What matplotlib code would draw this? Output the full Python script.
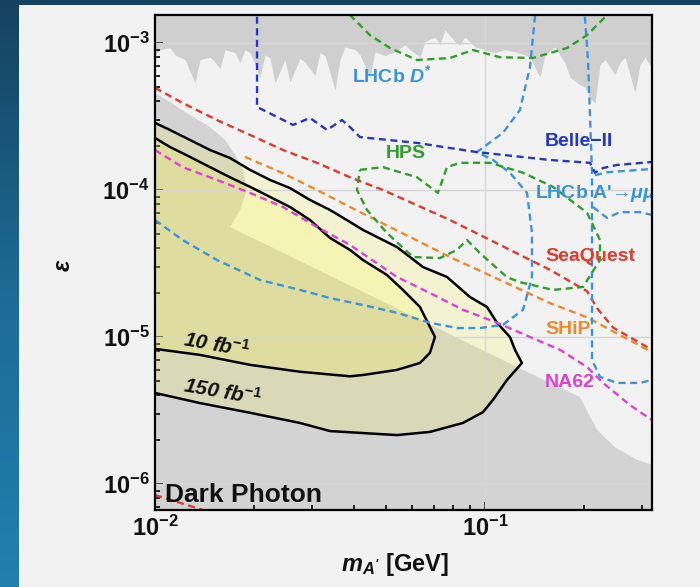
import numpy as np
import matplotlib
matplotlib.use("Agg")
import matplotlib.pyplot as plt
from matplotlib.patches import Rectangle
from matplotlib.colors import LinearSegmentedColormap
from matplotlib.ticker import LogLocator, NullFormatter

plt.rcParams['font.family'] = ['Liberation Sans', 'DejaVu Sans']
plt.rcParams['font.weight'] = 'bold'
plt.rcParams['axes.labelweight'] = 'bold'
plt.rcParams['mathtext.fontset'] = 'custom'
plt.rcParams['mathtext.rm'] = 'Liberation Sans:bold'
plt.rcParams['mathtext.it'] = 'Liberation Sans:italic:bold'
plt.rcParams['mathtext.bf'] = 'Liberation Sans:bold'

# ---------------- data (m_A' in GeV, epsilon) ----------------
# existing constraints, upper (jagged) region: lower boundary
top_m = [0.01000, 0.01035, 0.01110, 0.01150, 0.01233, 0.01322, 0.01369, 0.01468, 0.01520,
         0.01574, 0.01630, 0.01748, 0.01810, 0.01874, 0.01941, 0.02081, 0.02155, 0.02231,
         0.02311, 0.02477, 0.02565, 0.02750, 0.02848, 0.03054, 0.03162, 0.03274, 0.03511,
         0.03635, 0.03764, 0.04036, 0.04179, 0.04481, 0.04640, 0.04976, 0.05335, 0.05720,
         0.05923, 0.06351, 0.06577, 0.07052, 0.07302, 0.07561, 0.08108, 0.08396, 0.08694,
         0.09322, 0.1000, 0.1072, 0.1150, 0.1233, 0.1322, 0.1369, 0.1468, 0.1520, 0.1630,
         0.1748, 0.1810, 0.1941, 0.2010, 0.2081, 0.2155, 0.2231, 0.2311, 0.2477, 0.2565,
         0.2656, 0.2848, 0.2949, 0.3054, 0.3207]
top_eps = [8.3e-4, 9.0e-4, 9.3e-4, 8.3e-4, 7.7e-4, 5.35e-4, 7.7e-4, 8.0e-4, 7.4e-4,
           6.7e-4, 9.0e-4, 8.6e-4, 7.3e-4, 9.0e-4, 8.6e-4, 5.85e-4, 8.3e-4, 7.9e-4,
           5.35e-4, 7.7e-4, 5.4e-4, 7.9e-4, 7.4e-4, 6.0e-4, 8.6e-4, 8.2e-4, 4.8e-4,
           7.7e-4, 9.4e-4, 9.0e-4, 8.3e-4, 5.85e-4, 8.7e-4, 8.2e-4, 8.7e-4, 9.7e-4,
           9.0e-4, 8.0e-4, 1.02e-3, 1.10e-3, 9.7e-4, 1.23e-3, 1.02e-3, 9.7e-4, 1.10e-3,
           9.4e-4, 9.0e-4, 8.6e-4, 9.0e-4, 8.7e-4, 8.3e-4, 8.0e-4, 5.85e-4, 8.3e-4, 9.4e-4,
           7.3e-4, 5.85e-4, 5.2e-4, 5.0e-4, 4.2e-4, 3.9e-4, 7.1e-4, 7.7e-4, 6.1e-4, 7.4e-4,
           8.0e-4, 4.6e-4, 7.1e-4, 8.0e-4, 6.7e-4]

# existing constraints, lower (beam dump) region: upper boundary
low_m = [0.0100, 0.01110, 0.01276, 0.01468, 0.01630, 0.01748, 0.01849, 0.01900, 0.01810,
         0.01688, 0.1250, 0.1941, 0.2186, 0.2477, 0.2888, 0.3207]
low_eps = [4.57e-4, 3.97e-4, 3.24e-4, 2.68e-4, 2.19e-4, 1.73e-4, 1.37e-4, 1.00e-4, 7.31e-5,
           5.6e-5, 6.25e-6, 3.9e-6, 2.33e-6, 1.78e-6, 1.46e-6, 1.35e-6]

# projected reach, 150 fb^-1 (closed contour)
c150_m = [0.01000, 0.01110, 0.01276, 0.01468, 0.01688, 0.01941, 0.02231, 0.02565, 0.02949,
          0.03390, 0.03898, 0.04267, 0.05410, 0.06486, 0.07668, 0.09003, 0.1014, 0.1087,
          0.1190, 0.1233, 0.1294, 0.1166, 0.1057, 0.0986, 0.08573, 0.06810, 0.05410,
          0.04267, 0.03390, 0.02750, 0.01941, 0.01369, 0.01000]
c150_eps = [2.86e-4, 2.56e-4, 2.19e-4, 1.87e-4, 1.65e-4, 1.37e-4, 1.17e-4, 1.03e-4, 8.55e-5,
            7.31e-5, 6.06e-5, 5.35e-5, 4.09e-5, 2.99e-5, 2.56e-5, 1.87e-5, 1.60e-5, 1.25e-5,
            1.0e-5, 8.17e-6, 6.65e-6, 5.10e-6, 3.73e-6, 3.08e-6, 2.60e-6, 2.26e-6, 2.15e-6,
            2.22e-6, 2.29e-6, 2.60e-6, 3.05e-6, 3.55e-6, 4.16e-6]

# projected reach, 10 fb^-1 (closed contour)
c10_m = [0.01000, 0.01110, 0.01276, 0.01468, 0.01688, 0.01941, 0.02231, 0.02565, 0.02949,
         0.03390, 0.03898, 0.04267, 0.05046, 0.05640, 0.06351, 0.06810, 0.07052, 0.06810,
         0.06351, 0.05410, 0.04267, 0.03898, 0.02750, 0.01941, 0.01369, 0.01000]
c10_eps = [2.26e-4, 1.96e-4, 1.68e-4, 1.43e-4, 1.22e-4, 1.05e-4, 8.97e-5, 7.66e-5, 6.25e-5,
           4.72e-5, 3.91e-5, 3.34e-5, 2.64e-5, 2.09e-5, 1.60e-5, 1.17e-5, 1.0e-5, 7.8e-6,
           6.65e-6, 5.97e-6, 5.51e-6, 5.4e-6, 5.8e-6, 6.46e-6, 7.55e-6, 8.3e-6]

# SeaQuest
seaquest_m = [0.01000, 0.01212, 0.01541, 0.01941, 0.02443, 0.03097, 0.03898, 0.04907, 0.07830,
              0.1110, 0.1574, 0.2038, 0.2186, 0.2443, 0.3207]
seaquest_eps = [4.95e-4, 3.91e-4, 2.99e-4, 2.37e-4, 1.87e-4, 1.53e-4, 1.22e-4, 1.0e-4, 6.25e-5,
                4.23e-5, 2.86e-5, 2.05e-5, 1.57e-5, 1.16e-5, 8.17e-6]
seaquest_low_m = [0.0100, 0.01398, 0.0152]
seaquest_low_eps = [8.4e-7, 6.65e-7, 6.1e-7]

# SHiP
ship_m = [0.01874, 0.02443, 0.03097, 0.03898, 0.05524, 0.07830, 0.1110, 0.1574, 0.2038,
          0.2565, 0.3207]
ship_eps = [1.68e-4, 1.30e-4, 1.0e-4, 7.66e-5, 5.18e-5, 3.5e-5, 2.44e-5, 1.70e-5, 1.36e-5,
            1.03e-5, 7.9e-6]

# NA62
na62_m = [0.01000, 0.01212, 0.01541, 0.01941, 0.02443, 0.03097, 0.03898, 0.05410, 0.06810,
          0.08573, 0.1087, 0.1369, 0.1688, 0.2038, 0.2279, 0.2750, 0.3207]
na62_eps = [1.87e-4, 1.43e-4, 1.17e-4, 9.55e-5, 7.66e-5, 5.6e-5, 4.23e-5, 2.56e-5, 1.99e-5,
            1.53e-5, 1.25e-5, 1.0e-5, 8.17e-6, 6.25e-6, 4.87e-6, 3.44e-6, 2.72e-6]

# LHCb A' -> mu mu (displaced + prompt)
lhcb_m = [0.01000, 0.01212, 0.01541, 0.02081, 0.02750, 0.03390, 0.04267, 0.05410, 0.06810,
          0.08222, 0.09653, 0.1134, 0.1304, 0.1388, 0.1388, 0.1341, 0.1190, 0.1057, 0.09453,
          0.1134, 0.1276, 0.1369, 0.1428]
lhcb_eps = [6.25e-5, 4.57e-5, 3.34e-5, 2.44e-5, 2.09e-5, 1.84e-5, 1.65e-5, 1.46e-5, 1.25e-5,
            1.15e-5, 1.15e-5, 1.21e-5, 1.53e-5, 2.55e-5, 5.1e-5, 9.55e-5, 1.31e-4, 1.60e-4,
            1.81e-4, 2.45e-4, 3.5e-4, 6.86e-4, 1.81e-3]
# LHCb D* and high-mass pieces
lhcb2_m = [0.1996, 0.2052, 0.2110, 0.2110, 0.2231, 0.2512, 0.2949, 0.3207]
lhcb2_eps = [1.81e-3, 7.66e-4, 1.31e-4, 6.98e-6, 5.35e-6, 4.87e-6, 4.87e-6, 5.10e-6]
lhcb3_m = [0.2155, 0.2344, 0.3207]
lhcb3_eps = [1.26e-4, 1.32e-4, 1.39e-4]
lhcb4_m = [0.2125, 0.2344, 0.2565, 0.2949, 0.3207]
lhcb4_eps = [7.66e-5, 6.45e-5, 7.07e-5, 7.07e-5, 6.76e-5]

# Belle-II
belle_m = [0.02038, 0.02038, 0.02344, 0.02619, 0.02949, 0.03320, 0.03686, 0.03898, 0.04179,
           0.06220, 0.09453, 0.1574, 0.2081, 0.2155, 0.2279, 0.2512, 0.3207]
belle_eps = [1.81e-3, 3.67e-4, 3.14e-4, 2.77e-4, 3.09e-4, 2.56e-4, 2.99e-4, 2.68e-4, 2.29e-4,
             2.09e-4, 1.81e-4, 1.60e-4, 1.53e-4, 1.31e-4, 1.41e-4, 1.48e-4, 1.55e-4]

# HPS
hps_up_m = [0.03712, 0.03898, 0.04481, 0.05152, 0.06220, 0.07830, 0.09192, 0.1110, 0.1397,
            0.1773, 0.2038, 0.2344, 0.2477]
hps_up_eps = [1.81e-3, 1.55e-3, 1.13e-3, 9.25e-4, 7.66e-4, 7.9e-4, 8.96e-4, 8.0e-4, 7.9e-4,
              9.25e-4, 1.13e-3, 1.55e-3, 1.81e-3]
hps_lo_m = [0.04179, 0.04907, 0.06220, 0.07200, 0.07668, 0.08396, 0.1036, 0.1304, 0.1607,
            0.2038, 0.2231, 0.2231, 0.1982, 0.1607, 0.1276, 0.1166, 0.09653, 0.08817, 0.08220,
            0.07302, 0.06049, 0.05046, 0.04389, 0.04093, 0.04179]
hps_lo_eps = [1.37e-4, 1.43e-4, 1.22e-4, 9.55e-5, 1.43e-4, 1.53e-4, 1.53e-4, 1.31e-4, 1.05e-4,
              7.0e-5, 4.57e-5, 3.34e-5, 2.19e-5, 2.09e-5, 2.36e-5, 2.55e-5, 3.72e-5, 4.57e-5,
              3.91e-5, 3.44e-5, 3.5e-5, 5.1e-5, 7.31e-5, 1.0e-4, 1.37e-4]

x_ticks = [1e-2, 1e-1]
y_ticks = [1e-6, 1e-5, 1e-4, 1e-3]
xlim = (0.01, 0.3207)
ylim = (6.65e-7, 1.55e-3)

# ---------------- colours ----------------
C_LHCB = '#3c94dc'
C_BELLE = '#2636c8'
C_HPS = '#2f9f2a'
C_SEAQ = '#e6392c'
C_SHIP = '#ef8a2c'
C_NA62 = '#e03fda'
C_GREY = '#d3d3d3'
C_BG = '#f2f2f2'
C_YEL = (1.0, 0.98, 0.1)

# ---------------- figure ----------------
fig = plt.figure(figsize=(7.0, 5.87), dpi=100)
bg = fig.add_axes([0, 0, 1, 1])
bg.set_axis_off()
cmap = LinearSegmentedColormap.from_list('slide', ['#154260', '#1d6b95', '#2180ad'])
bg.imshow(np.linspace(0, 1, 256).reshape(-1, 1), cmap=cmap, aspect='auto',
          extent=[0, 1, 0, 1], origin='upper')
bg.add_patch(Rectangle((19 / 700, 0), 1 - 19 / 700, 582 / 587, transform=bg.transAxes,
                       facecolor=C_BG, edgecolor='none'))
bg.set_xlim(0, 1)
bg.set_ylim(0, 1)

ax = fig.add_axes([155 / 700, 77 / 587, 497 / 700, 495 / 587])
ax.set_facecolor(C_BG)
ax.set_xscale('log')
ax.set_yscale('log')
ax.set_xlim(*xlim)
ax.set_ylim(*ylim)

# grey existing constraints
ax.fill_between(top_m, top_eps, ylim[1] * 2, color='#cfcfcf', lw=0, zorder=1)
poly_m = low_m + [xlim[1] * 2, xlim[1] * 2, xlim[0] / 2, xlim[0] / 2]
poly_e = low_eps + [low_eps[-1], ylim[0] / 2, ylim[0] / 2, low_eps[0]]
ax.fill(poly_m, poly_e, color=C_GREY, lw=0, zorder=1)

# yellow projected regions
ax.fill(c150_m, c150_eps, color=C_YEL, alpha=0.15, lw=0, zorder=2)
ax.fill(c10_m, c10_eps, color=C_YEL, alpha=0.15, lw=0, zorder=2)

# grid
for t in x_ticks:
    ax.axvline(t, color='#d6d6d6', lw=1.0, zorder=2.5)
for t in y_ticks:
    ax.axhline(t, color='#d6d6d6', lw=1.0, zorder=2.5)

ax.plot(c150_m, c150_eps, color='black', lw=1.8, zorder=3)
ax.plot(c10_m, c10_eps, color='black', lw=1.8, zorder=3)

dash = (0, (3.0, 1.9))
lw = 1.7
ax.plot(seaquest_m, seaquest_eps, color=C_SEAQ, ls=dash, lw=lw, zorder=4)
ax.plot(seaquest_low_m, seaquest_low_eps, color=C_SEAQ, ls=dash, lw=lw, zorder=4)
ax.plot(ship_m, ship_eps, color=C_SHIP, ls=dash, lw=lw, zorder=4)
ax.plot(na62_m, na62_eps, color=C_NA62, ls=dash, lw=lw, zorder=4)
ax.plot(lhcb_m, lhcb_eps, color=C_LHCB, ls=dash, lw=lw, zorder=4)
ax.plot(lhcb2_m, lhcb2_eps, color=C_LHCB, ls=dash, lw=lw, zorder=4)
ax.plot(lhcb3_m, lhcb3_eps, color=C_LHCB, ls=dash, lw=lw, zorder=4)
ax.plot(lhcb4_m, lhcb4_eps, color=C_LHCB, ls=dash, lw=lw, zorder=4)
ax.plot(belle_m, belle_eps, color=C_BELLE, ls=dash, lw=lw, zorder=4)
ax.plot(hps_up_m, hps_up_eps, color=C_HPS, ls=dash, lw=lw, zorder=4)
ax.plot(hps_lo_m, hps_lo_eps, color=C_HPS, ls=dash, lw=lw, zorder=4)

# labels
fs = 14
ax.text(0.477, 0.879, r"LHCb $D^{*}$", color=C_LHCB, fontsize=fs, ha='center', va='center',
        transform=ax.transAxes, zorder=6)
ax.text(0.853, 0.745, "Belle\u2212II", color=C_BELLE, fontsize=fs, ha='center', va='center',
        transform=ax.transAxes, zorder=6)
ax.text(0.505, 0.721, "HPS", color=C_HPS, fontsize=fs, ha='center', va='center',
        transform=ax.transAxes, zorder=6)
ax.text(0.765, 0.640, "LHCb A'\u2192$\\mu\\mu$", color=C_LHCB, fontsize=fs, ha='left',
        va='center', transform=ax.transAxes, zorder=6, clip_on=True)
ax.text(0.785, 0.513, "SeaQuest", color=C_SEAQ, fontsize=fs, ha='left', va='center',
        transform=ax.transAxes, zorder=6)
ax.text(0.785, 0.364, "SHiP", color=C_SHIP, fontsize=fs, ha='left', va='center',
        transform=ax.transAxes, zorder=6)
ax.text(0.785, 0.257, "NA62", color=C_NA62, fontsize=fs, ha='left', va='center',
        transform=ax.transAxes, zorder=6)
ax.text(0.123, 0.333, r"10 fb$^{-1}$", color='#111111', fontsize=15, style='italic',
        ha='center', va='center', rotation=-10, transform=ax.transAxes, zorder=6)
ax.text(0.135, 0.238, r"150 fb$^{-1}$", color='#111111', fontsize=15, style='italic',
        ha='center', va='center', rotation=-10, transform=ax.transAxes, zorder=6)
ax.text(0.020, 0.016, "Dark Photon", color='#111111', fontsize=19, ha='left',
        va='baseline', transform=ax.transAxes, zorder=6)

# axes styling
for s in ax.spines.values():
    s.set_linewidth(1.6)
    s.set_color('black')
    s.set_zorder(7)
ax.xaxis.set_major_locator(LogLocator(base=10, numticks=20))
ax.yaxis.set_major_locator(LogLocator(base=10, numticks=20))
ax.xaxis.set_minor_locator(LogLocator(base=10, subs=np.arange(2, 10), numticks=20))
ax.yaxis.set_minor_locator(LogLocator(base=10, subs=np.arange(2, 10), numticks=20))
ax.xaxis.set_minor_formatter(NullFormatter())
ax.yaxis.set_minor_formatter(NullFormatter())
ax.tick_params(which='both', direction='in', top=False, right=False, width=1.3,
               labelsize=17, pad=4, colors='#111111')
ax.tick_params(which='major', length=6)
ax.tick_params(which='minor', length=3.5)

ax.set_xlabel(r"$m_{A^{\prime}}$ [GeV]", fontsize=17, color='#111111')
ax.set_ylabel(r"$\epsilon$", fontsize=17, color='#111111')
ax.xaxis.set_label_coords(0.483, -0.083)
ax.yaxis.set_label_coords(-0.16, 0.495)

fig.savefig("out.png", dpi=100, facecolor=fig.get_facecolor())
